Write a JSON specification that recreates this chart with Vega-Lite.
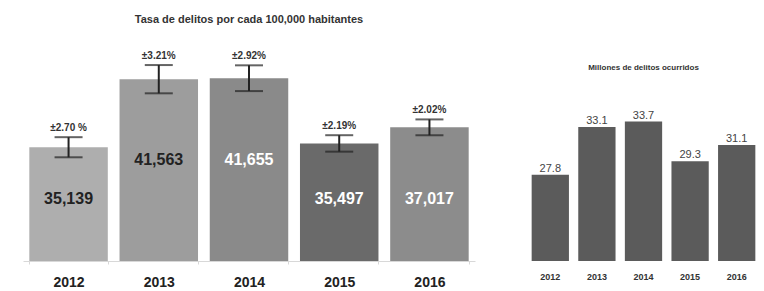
{
  "$schema": "https://vega.github.io/schema/vega-lite/v6.json",
  "padding": {"left": 23, "top": 14, "right": 0, "bottom": 0},
  "spacing": 52,
  "background": "white",
  "config": {"view": {"stroke": null}, "font": "Liberation Sans"},
  "datasets": {
    "tasa": [
      {"year": "2012", "value": 35139, "pct": "±2.70 %", "lo": 34190, "hi": 36088},
      {"year": "2013", "value": 41563, "pct": "±3.21%", "lo": 40229, "hi": 42897},
      {"year": "2014", "value": 41655, "pct": "±2.92%", "lo": 40439, "hi": 42871},
      {"year": "2015", "value": 35497, "pct": "±2.19%", "lo": 34720, "hi": 36274},
      {"year": "2016", "value": 37017, "pct": "±2.02%", "lo": 36269, "hi": 37765}
    ],
    "millones": [
      {"year": "2012", "value": 27.8},
      {"year": "2013", "value": 33.1},
      {"year": "2014", "value": 33.7},
      {"year": "2015", "value": 29.3},
      {"year": "2016", "value": 31.1}
    ]
  },
  "hconcat": [
    {
      "width": 452,
      "height": 232,
      "title": {"text": "Tasa de delitos por cada 100,000 habitantes", "fontSize": 11, "fontWeight": "bold", "color": "#333", "offset": 4},
      "data": {"name": "tasa"},
      "encoding": {
        "x": {
          "field": "year", "type": "nominal", "title": null,
          "scale": {"paddingInner": 0.13, "paddingOuter": 0.07},
          "axis": {"labelAngle": 0, "labelFontSize": 14, "labelFontWeight": "bold", "labelColor": "#222", "domainColor": "#d8d8d8", "tickColor": "#d8d8d8", "tickBand": "extent", "tickSize": 3, "labelPadding": 11}
        }
      },
      "layer": [
        {
          "mark": {"type": "bar", "clip": true},
          "encoding": {
            "y": {"field": "value", "type": "quantitative", "scale": {"domain": [24400, 46300], "nice": false, "zero": false}, "axis": null},
            "y2": {"datum": 24400},
            "color": {"field": "year", "type": "nominal", "legend": null, "scale": {"range": ["#aeaeae", "#9d9d9d", "#8a8a8a", "#6a6a6a", "#8c8c8c"]}}
          }
        },
        {
          "mark": {"type": "rule", "color": "#222", "strokeWidth": 2},
          "encoding": {"y": {"field": "lo", "type": "quantitative"}, "y2": {"field": "hi"}}
        },
        {
          "mark": {"type": "tick", "color": "#222", "size": 28, "thickness": 2},
          "encoding": {"y": {"field": "lo", "type": "quantitative"}}
        },
        {
          "mark": {"type": "tick", "color": "#222", "size": 28, "thickness": 2},
          "encoding": {"y": {"field": "hi", "type": "quantitative"}}
        },
        {
          "mark": {"type": "text", "fontSize": 10, "fontWeight": "bold", "color": "#333", "baseline": "alphabetic", "dy": -6},
          "encoding": {"y": {"field": "hi", "type": "quantitative"}, "text": {"field": "pct"}}
        },
        {
          "transform": [{"filter": "datum.year == '2012' || datum.year == '2015' || datum.year == '2016'"}],
          "mark": {"type": "text", "fontSize": 16, "fontWeight": "bold", "baseline": "middle"},
          "encoding": {
            "y": {"datum": 30255, "type": "quantitative"},
            "text": {"field": "value", "type": "quantitative", "format": ",d"},
            "color": {"condition": {"test": "datum.year == '2012' || datum.year == '2013'", "value": "#222"}, "value": "#ffffff"}
          }
        },
        {
          "transform": [{"filter": "datum.year == '2013' || datum.year == '2014'"}],
          "mark": {"type": "text", "fontSize": 16, "fontWeight": "bold", "baseline": "middle"},
          "encoding": {
            "y": {"datum": 33937, "type": "quantitative"},
            "text": {"field": "value", "type": "quantitative", "format": ",d"},
            "color": {"condition": {"test": "datum.year == '2012' || datum.year == '2013'", "value": "#222"}, "value": "#ffffff"}
          }
        }
      ]
    },
    {
      "width": 233,
      "height": 232,
      "title": {"text": "Millones de delitos ocurridos", "fontSize": 8, "fontWeight": "bold", "color": "#333", "offset": -43},
      "data": {"name": "millones"},
      "encoding": {
        "x": {
          "field": "year", "type": "nominal", "title": null,
          "scale": {"paddingInner": 0.2, "paddingOuter": 0.1},
          "axis": {"labelAngle": 0, "labelFontSize": 9, "labelFontWeight": "bold", "labelColor": "#333", "domain": false, "ticks": false, "labelPadding": 11}
        },
        "y": {"field": "value", "type": "quantitative", "scale": {"domain": [18.2, 44.0], "nice": false, "zero": false}, "axis": null}
      },
      "layer": [
        {"mark": {"type": "bar", "color": "#5b5b5b", "clip": true}, "encoding": {"y2": {"datum": 18.2}}},
        {
          "mark": {"type": "text", "fontSize": 11, "color": "#444", "baseline": "alphabetic", "dy": -3},
          "encoding": {"text": {"field": "value", "type": "quantitative", "format": ".1f"}}
        }
      ]
    }
  ]
}
